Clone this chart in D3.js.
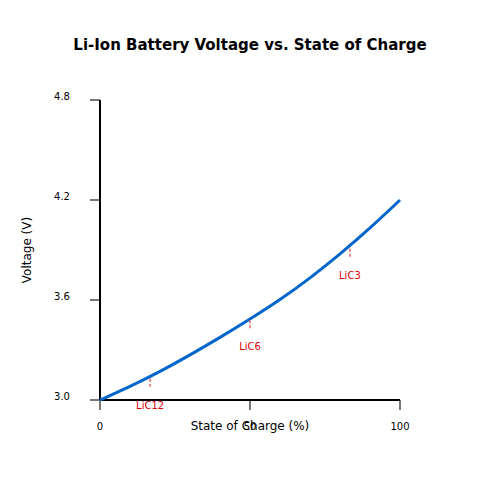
<!DOCTYPE html><html><head><meta charset="utf-8"><script src="https://cdn.jsdelivr.net/npm/d3@7"></script>
<style>body{margin:0;background:#fff}text{font-family:"DejaVu Sans",sans-serif}</style></head><body><svg id="c" width="500" height="500"></svg>
<script>
const soc=[0,10,20,30,40,50,60,70,80,90,100];
const voltage=[3.00,3.08,3.17,3.27,3.375,3.485,3.60,3.73,3.875,4.03,4.20];
const yTicks=[3.0,3.6,4.2,4.8];
const xTicks=[0,50,100];
const stageNames=["LiC12","LiC6","LiC3"];
const stageX=[16.7,50,83.3];
const stageV=[3.14,3.49,3.92];
const svg=d3.select("#c");
const x=d3.scaleLinear().domain([0,100]).range([100,400]);
const y=d3.scaleLinear().domain([3.0,4.8]).range([400,100]);
svg.append("text").attr("x",250).attr("y",50).attr("text-anchor","middle").attr("font-size",15).attr("font-weight","bold").text("Li-Ion Battery Voltage vs. State of Charge");
const ya=svg.append("g");
yTicks.forEach(t=>{ya.append("line").attr("x1",90).attr("x2",100).attr("y1",y(t)).attr("y2",y(t)).attr("stroke","#777").attr("stroke-width",2);
ya.append("text").attr("x",62).attr("y",y(t)).attr("text-anchor","middle").attr("font-size",10).text(t.toFixed(1));});
const xa=svg.append("g");
xTicks.forEach(t=>{xa.append("line").attr("x1",x(t)).attr("x2",x(t)).attr("y1",400).attr("y2",410).attr("stroke","#777").attr("stroke-width",2);
xa.append("text").attr("x",x(t)).attr("y",430).attr("text-anchor","middle").attr("font-size",10).text(t);});
svg.append("line").attr("x1",100).attr("x2",100).attr("y1",100).attr("y2",400).attr("stroke","#000").attr("stroke-width",2);
svg.append("line").attr("x1",100).attr("x2",400).attr("y1",400).attr("y2",400).attr("stroke","#000").attr("stroke-width",2);
svg.append("text").attr("x",250).attr("y",430).attr("text-anchor","middle").attr("font-size",12).text("State of Charge (%)");
svg.append("text").attr("transform","translate(31,250) rotate(-90)").attr("text-anchor","middle").attr("font-size",12).text("Voltage (V)");
svg.append("path").datum(soc.map((s,i)=>[s,voltage[i]])).attr("fill","none").attr("stroke","#0066cc").attr("stroke-width",3)
 .attr("d",d3.line().x(d=>x(d[0])).y(d=>y(d[1])).curve(d3.curveBasis));
stageNames.forEach((n,i)=>{const px=x(stageX[i]),py=y(stageV[i]);
svg.append("line").attr("x1",px).attr("x2",px).attr("y1",py+2).attr("y2",py+12).attr("stroke","#e06060").attr("stroke-width",1.5).attr("stroke-dasharray","3,2");
svg.append("text").attr("x",px).attr("y",py+32).attr("text-anchor","middle").attr("font-size",10).attr("fill","#dd0000").text(n);});
</script></body></html>
